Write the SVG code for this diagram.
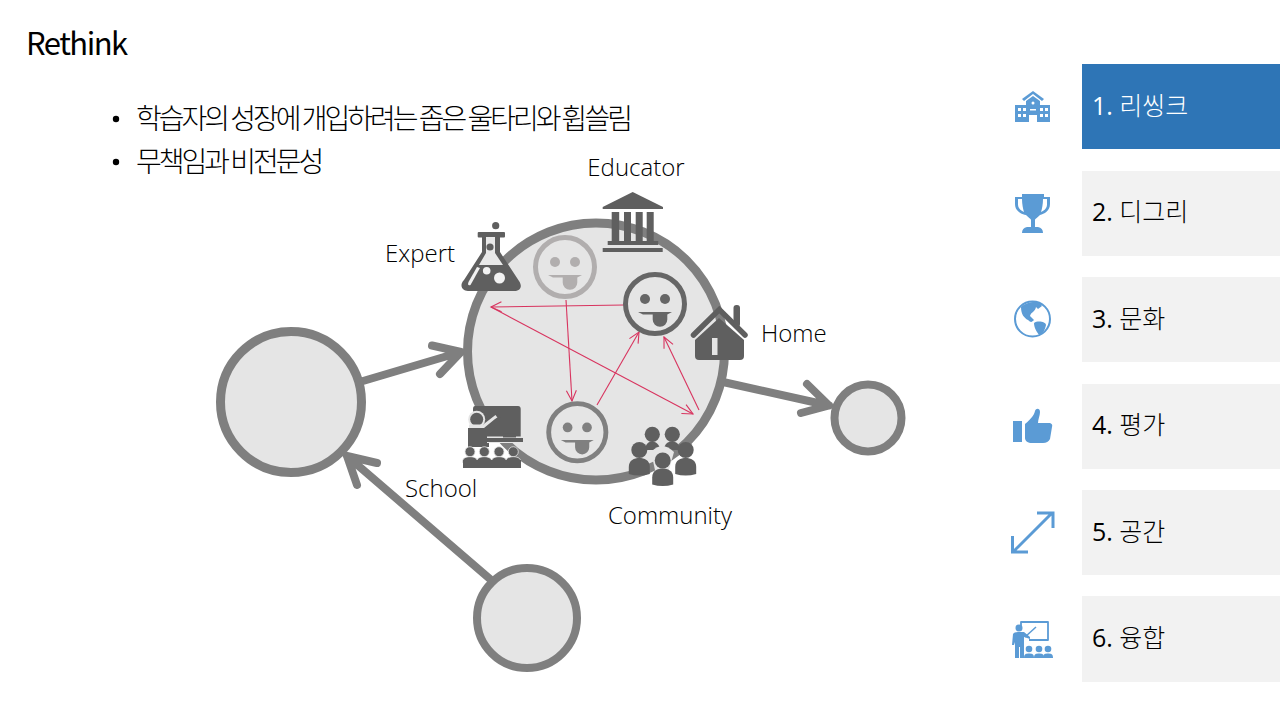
<svg xmlns="http://www.w3.org/2000/svg" width="1280" height="720" viewBox="0 0 1280 720">
<style>
text{font-family:"Open Sans","Noto Sans CJK KR",sans-serif;fill:#000}
.kr{font-family:"Noto Sans CJK KR",sans-serif;font-weight:300;font-size:28px;letter-spacing:-3px}
.lab{font-size:24px;font-weight:300;fill:#000;stroke:none}
.menu{font-size:25px;font-weight:400}
.menu tspan{font-family:"Noto Sans CJK KR",sans-serif;font-weight:300}
.big{fill:#e5e5e5;stroke:#7f7f7f}
.arr{fill:none;stroke:#7f7f7f;stroke-width:8;stroke-linecap:round;stroke-linejoin:round}
.red{fill:none;stroke:#d8345f;stroke-width:1.100;marker-end:url(#ra)}
.ico{fill:#5f5f5f}
.b{fill:#5b9bd5}
.panel{fill:#f2f2f2}
</style>
<defs>
<marker id="ra" markerUnits="userSpaceOnUse" markerWidth="14" markerHeight="14" refX="12" refY="7" orient="auto"><path d="M1.500 2L12 7L1.500 12" fill="none" stroke="#d8345f" stroke-width="1.100"/></marker>
<g id="face"><circle cx="0" cy="0" r="29.500" fill="none" stroke="currentColor" stroke-width="5"/><circle cx="-10" cy="-5" r="5" fill="currentColor"/><circle cx="10" cy="-5" r="5" fill="currentColor"/><path d="M-17 8H17L12.300 10.500V15.500A7.300 7.300 0 0 1 -2.300 15.500V10.500H-12Z" fill="currentColor"/></g>
<g id="person"><circle cx="0" cy="0" r="8"/><path d="M-10.500 24V17C-10.500 10 -5 8 0 8S10.500 10 10.500 17V24Q0 27 -10.500 24Z"/></g>
<g id="aud"><circle cx="0" cy="0" r="5"/><path d="M-7.200 11V9C-7.200 6 -3 5 0 5S7.200 6 7.200 9V11Z"/></g>
<g id="pers"><circle cx="0" cy="-4" r="3.300"/><path d="M-5 5C-5 1 -3 .500 0 .500S5 1 5 5Z"/></g>
</defs>

<text x="26" y="54.500" style="font-family:'Noto Sans CJK KR',sans-serif;font-size:31px;font-weight:400;letter-spacing:-1.500px">Rethink</text>
<circle cx="116" cy="119" r="3.200" fill="#000"/>
<circle cx="116" cy="162" r="3.200" fill="#000"/>
<text class="kr" x="136" y="129">학습자의 성장에 개입하려는 좁은 울타리와 휩쓸림</text>
<text class="kr" x="136" y="172">무책임과 비전문성</text>

<g id="connectors">
<path class="arr" d="M363 381L461 352M432 345.500L461 352L440 374"/>
<path class="arr" d="M723 382L829 405.500M807 384L829 405.500L801 413"/>
<path class="arr" d="M490 579L347 456M377 463L347 456L357 485"/>
</g>

<g id="node-left"><circle class="big" cx="291" cy="402" r="70.500" stroke-width="9"/></g>
<g id="node-right"><circle class="big" cx="868" cy="418" r="33.500" stroke-width="8"/></g>
<g id="node-bottom"><circle class="big" cx="527" cy="618" r="50" stroke-width="8"/></g>
<g id="node-center"><circle class="big" cx="596" cy="351.500" r="128.500" stroke-width="9"/></g>
<g id="inner-connectors">
<path class="red" d="M624 305L491 307"/>
<path class="red" d="M491 307L693 414"/>
<path class="red" d="M566 300L572 401"/>
<path class="red" d="M597 405L639 332"/>
<path class="red" d="M699 410L664 337"/>
</g>

<g id="face-1"><use href="#face" x="565" y="267" color="#b1aeae"/></g>
<g id="face-2"><use href="#face" x="655" y="304" color="#666"/></g>
<g id="face-3"><use href="#face" transform="translate(577.300 432.300) scale(.97)" color="#808080"/></g>

<g id="educator" class="ico">
<path d="M632.700 192L663 207V209H602.700V207Z"/>
<rect x="611.700" y="212" width="7.500" height="29"/><rect x="624" y="212" width="7" height="29"/><rect x="635.700" y="212" width="7" height="29"/><rect x="646.700" y="212" width="7" height="29"/>
<rect x="607.700" y="241" width="50.500" height="4"/><rect x="602.700" y="248" width="60" height="4"/>
<text x="636" y="176" class="lab" text-anchor="middle">Educator</text>
</g>
<g id="expert" class="ico">
<circle cx="495.700" cy="225.700" r="3.600"/>
<rect x="477.700" y="232" width="27.300" height="5.500" rx="1"/>
<path d="M482 237H500V252L519 281C523 287 520 291 514 291H468C462 291 459 285 464 280L482 252Z"/>
<path d="M486 237H495V253L503 265H479L486 253Z" fill="#e9e9e9"/>
<circle cx="490" cy="247" r="3.600"/>
<path d="M477 267L468.500 282Q467 286 470.500 285L480 268Z" fill="#f2f2f2"/>
<circle cx="486.700" cy="270.700" r="3.800" fill="#f2f2f2"/>
<circle cx="499.500" cy="278" r="5.500" fill="#f2f2f2"/>
<text x="385" y="262" class="lab">Expert</text>
</g>
<g id="home" class="ico">
<path d="M693.500 335L719.300 309.500L745 335" fill="none" stroke="#5f5f5f" stroke-width="5.500" stroke-linecap="round"/>
<rect x="733.500" y="305" width="6.500" height="22" rx="3"/>
<path d="M719 318L744 340V356Q744 360 740 360H699Q695 360 695 356V340Z"/>
<rect x="712" y="338" width="15" height="17" fill="#e5e5e5"/>
<rect x="717.500" y="338" width="9.500" height="17"/>
<text x="761" y="342" class="lab">Home</text>
</g>
<g id="school" class="ico">
<path d="M475 406H518Q520.700 406 520.700 409V438H473V409Q473 406 475 406Z"/>
<circle cx="476.700" cy="419.300" r="8.500" fill="#e5e5e5"/>
<circle cx="476.700" cy="419.300" r="6.500"/>
<path d="M469 427H484L497 417" fill="none" stroke="#e5e5e5" stroke-width="5"/>
<path d="M468 428H484L495 419Q500 415 501.500 419L489 434V447H468Z"/>
<path d="M487 436.500H523V443H487Z" fill="#e5e5e5"/>
<rect x="487" y="438" width="36" height="4"/>
<rect x="503" y="433.500" width="13" height="4"/>
<g stroke="#e5e5e5" stroke-width=".8">
<use href="#aud" x="470" y="451.700"/><use href="#aud" x="484.300" y="451.700"/><use href="#aud" x="499" y="451.700"/><use href="#aud" x="513.300" y="451.700"/>
</g>
<rect x="463" y="460" width="58" height="8"/>
<text x="405" y="497" class="lab">School</text>
</g>
<g id="community" class="ico">
<circle cx="652.300" cy="434.300" r="7.600"/><circle cx="672.300" cy="434.300" r="7.600"/>
<path d="M645 450C645 444 649 441.500 652 441.500S660 444 660 450Z"/>
<path d="M664 450C664 444 668 441.500 672 441.500S680 444 680 450Z"/>
<path d="M651 452Q662 440 674 452L669 470H655Z" fill="#e5e5e5"/>
<use href="#person" x="639.300" y="450"/>
<use href="#person" x="685.700" y="450"/>
<use href="#person" x="662.700" y="460.500"/>
<text x="670" y="524" class="lab" text-anchor="middle">Community</text>
</g>

<g id="menu-1"><rect x="1082" y="64" width="198" height="85" fill="#2e75b6"/><text class="menu" x="1092" y="115" style="fill:#fff">1. <tspan style="fill:#fff">리씽크</tspan></text>
<path class="b" d="M1033 91L1022 99L1024 101L1033 94L1042 101L1044 99Z"/>
<path class="b" d="M1033 96L1040 101V105H1050V122H1037V115H1029V122H1015V105H1026V101Z"/>
<g fill="#fff"><rect x="1018" y="108" width="3" height="3"/><rect x="1023" y="108" width="3" height="3"/><rect x="1018" y="114" width="3" height="3"/><rect x="1023" y="114" width="3" height="3"/><rect x="1040" y="108" width="3" height="3"/><rect x="1045" y="108" width="3" height="3"/><rect x="1040" y="114" width="3" height="3"/><rect x="1045" y="114" width="3" height="3"/><circle cx="1033" cy="103" r="1.500"/><rect x="1030" y="109" width="6" height="1.500"/></g>
</g>
<g id="menu-2"><rect class="panel" x="1082" y="171" width="198" height="85"/><text class="menu" x="1092" y="221">2. <tspan>디그리</tspan></text>
<path class="b" d="M1022 194H1044V197H1050V204C1050 211 1044 214 1040 215C1038 217 1035 219 1035 220V227H1038Q1043 228 1043 233H1022Q1022 228 1027 227H1031V220C1031 219 1028 217 1026 215C1021 214 1015 211 1015 204V197H1022ZM1018 199V204C1018 208 1020 210 1024 212C1023 209 1022 204 1022 199ZM1047 199H1043C1043 204 1042 209 1041 212C1045 210 1047 208 1047 204Z" fill-rule="evenodd"/>
</g>
<g id="menu-3"><rect class="panel" x="1082" y="277" width="198" height="85"/><text class="menu" x="1092" y="328">3. <tspan>문화</tspan></text>
<circle cx="1032.500" cy="319" r="17.500" fill="none" stroke="#5b9bd5" stroke-width="2"/>
<path class="b" d="M1021 307C1026 302 1036 301 1040 303L1042 306L1038 309L1036 307C1035 312 1031 312 1030 316L1034 320C1032 322 1031 323 1028 320C1024 318 1021 314 1021 307Z"/>
<path class="b" d="M1034 323C1038 320 1046 322 1046 325C1045 330 1043 334 1039 335C1037 332 1034 328 1034 323Z"/>
</g>
<g id="menu-4"><rect class="panel" x="1082" y="384" width="198" height="85"/><text class="menu" x="1092" y="434">4. <tspan>평가</tspan></text>
<rect class="b" x="1013" y="421" width="9" height="21"/>
<path class="b" d="M1025 424C1032 418 1034 415 1035 411C1036 408 1040 408 1040 412C1040 416 1038 419 1038 423H1050Q1053 424 1052 427L1050 439Q1048 443 1043 443H1032C1028 443 1025 441 1025 438Z"/>
</g>
<g id="menu-5"><rect class="panel" x="1082" y="490" width="198" height="85"/><text class="menu" x="1092" y="541">5. <tspan>공간</tspan></text>
<path d="M1013 552L1052 513M1037 513H1053V528M1012.500 536V552H1028" fill="none" stroke="#5b9bd5" stroke-width="3"/>
</g>
<g id="menu-6"><rect class="panel" x="1082" y="596" width="198" height="86"/><text class="menu" x="1092" y="647">6. <tspan>융합</tspan></text>
<path d="M1021 627V622H1048V640H1029" fill="none" stroke="#5b9bd5" stroke-width="1.800" stroke-linejoin="round"/>
<circle class="b" cx="1019" cy="628" r="3.500"/>
<path class="b" d="M1013 634Q1014 632 1018 632H1024L1030 637V639L1024 637V658H1020V647H1019V658H1015V642L1014 645H1012Z"/>
<path d="M1025 637L1036 627" stroke="#5b9bd5" stroke-width="1.500"/>
<g fill="#5b9bd5"><use href="#pers" x="1029" y="653"/><use href="#pers" x="1039" y="653"/><use href="#pers" x="1048" y="653"/></g>
</g>
</svg>
